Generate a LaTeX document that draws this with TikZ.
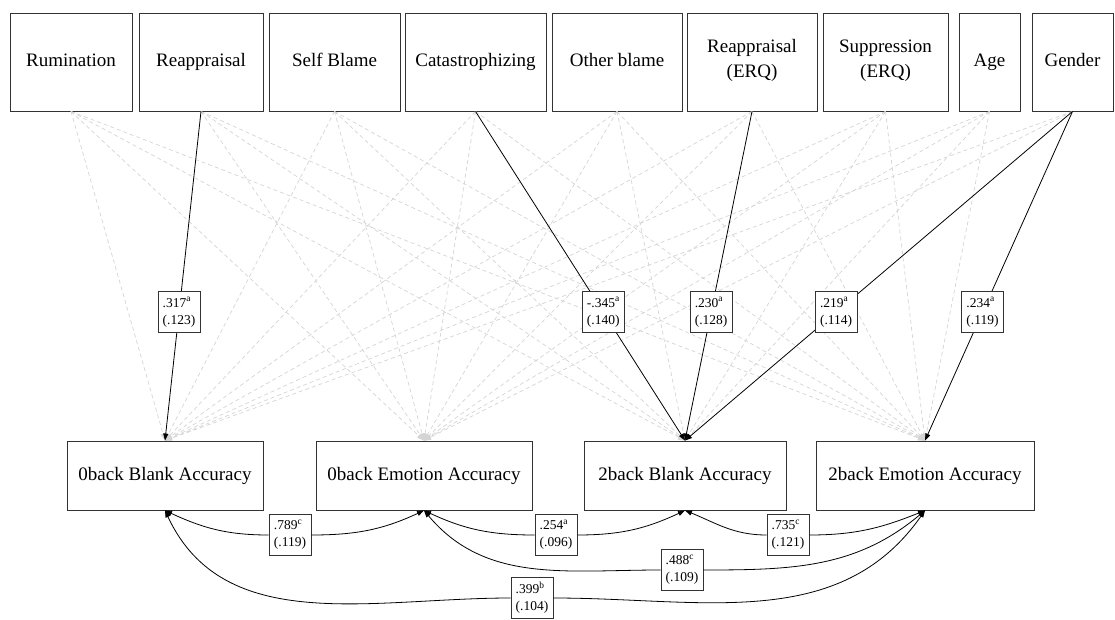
\documentclass[tikz,border=0pt]{standalone}
\usepackage{fontspec}
\setmainfont{Liberation Serif}
\usetikzlibrary{arrows.meta}
\begin{document}
\begin{tikzpicture}[x=1pt, y=1pt,
  var node/.style={draw=black!80, line width=0.9pt, align=center, inner sep=0pt, minimum height=98, font=\fontsize{19}{25}\selectfont, execute at begin node=\strut},
  dv node/.style={var node, minimum height=69},
  coef/.style={draw=black!80, fill=white, line width=0.8pt, align=left, inner xsep=3.5pt, inner ysep=3pt, minimum width=42, minimum height=41, font=\fontsize{13.5}{17}\selectfont},
  nonsig/.style={draw=black!17, line width=0.7pt, dash pattern=on 4pt off 3pt, -{Triangle[length=7pt,width=5pt]}},
  sig/.style={draw=black, line width=0.8pt, -{Triangle[length=7pt,width=5pt]}}]
\useasboundingbox (0,0) rectangle (1115,619);
\begin{scope}
\node[var node, minimum width=122] (rum) at (71,557) {Rumination};
\node[var node, minimum width=124] (reap) at (201,557) {Reappraisal};
\node[var node, minimum width=131] (selfb) at (334.5,557) {Self Blame};
\node[var node, minimum width=141] (catas) at (475.5,557) {Catastrophizing};
\node[var node, minimum width=130] (othb) at (617,557) {Other blame};
\node[var node, minimum width=130] (reapq) at (752,557) {Reappraisal\\\strut(ERQ)};
\node[var node, minimum width=125] (suppq) at (885.5,557) {Suppression\\\strut(ERQ)};
\node[var node, minimum width=61] (age) at (989.5,557) {Age};
\node[var node, minimum width=81] (gend) at (1072.5,557) {Gender};
%\node[var node, minimum width=] () at (,557) {};
\end{scope}
\begin{scope}
\node[dv node, minimum width=196] (zbl) at (165,143.5) {0back Blank Accuracy};
\node[dv node, minimum width=216] (zem) at (424,143.5) {0back Emotion Accuracy};
\node[dv node, minimum width=202] (tbl) at (685,143.5) {2back Blank Accuracy};
\node[dv node, minimum width=218] (tem) at (925,143.5) {2back Emotion Accuracy};
\end{scope}
% paths that are not significant
\begin{scope}
\foreach \src/\targets in {rum/{zbl,zem,tbl,tem}, reap/{zem,tbl,tem}, selfb/{zbl,zem,tbl,tem},
    catas/{zbl,zem,tem}, othb/{zbl,zem,tbl,tem}, reapq/{zbl,zem,tem}, suppq/{zbl,zem,tbl,tem},
    age/{zbl,zem,tbl,tem}, gend/{zbl,zem}}
  \foreach \dst in \targets
    \draw[nonsig] (\src.south) -- (\dst.north);
\end{scope}
% significant paths
\begin{scope}
\draw[sig] (reap.south) -- node[coef, pos=0.61] {.317\textsuperscript{a}\\(.123)} (zbl.north);
\draw[sig] (catas.south) -- node[coef, pos=0.61] {-.345\textsuperscript{a}\\(.140)} (tbl.north);
\draw[sig] (reapq.south) -- node[coef, pos=0.61] {.230\textsuperscript{a}\\(.128)} (tbl.north);
\draw[sig] (gend.south) -- node[coef, pos=0.61] {.219\textsuperscript{a}\\(.114)} (tbl.north);
\draw[sig] (gend.south) -- node[coef, pos=0.61] {.234\textsuperscript{a}\\(.119)} (tem.north);
\end{scope}
% covariances
\begin{scope}
\node[coef] (k789) at (290,84) {.789\textsuperscript{c}\\(.119)};
\node[coef] (k254) at (556,84) {.254\textsuperscript{a}\\(.096)};
\node[coef] (k735) at (788,84) {.735\textsuperscript{c}\\(.121)};
\node[coef] (k488) at (682,49) {.488\textsuperscript{c}\\(.109)};
\node[coef] (k399) at (532,21) {.399\textsuperscript{b}\\(.104)};
\draw[sig] (k789.west) to[out=180, in=-25] (zbl.south);
\draw[sig] (k789.east) to[out=0, in=-155] (zem.south);
\draw[sig] (k254.west) to[out=180, in=-25] (zem.south);
\draw[sig] (k254.east) to[out=0, in=-155] (tbl.south);
\draw[sig] (k735.west) to[out=180, in=-22] (tbl.south);
\draw[sig] (k735.east) to[out=0, in=-158] (tem.south);
\draw[sig] (k488.west) to[out=180, in=-50] (zem.south);
\draw[sig] (k488.east) to[out=0, in=-140] (tem.south);
\draw[sig] (k399.west) to[out=180, in=-65] (zbl.south);
\draw[sig] (k399.east) to[out=0, in=-125] (tem.south);
\end{scope}
\end{tikzpicture}
\end{document}
